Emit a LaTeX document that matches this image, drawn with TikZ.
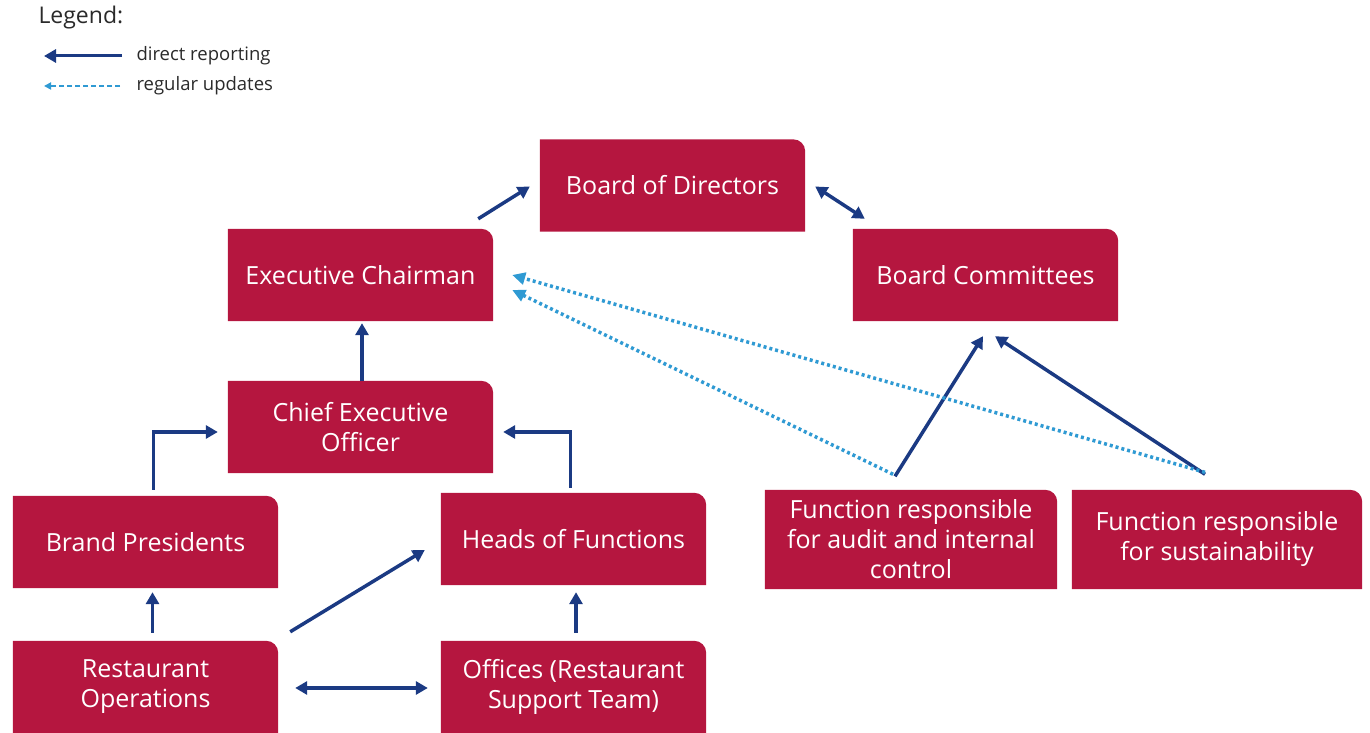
\documentclass[tikz,border=0pt]{standalone}
\usepackage{fontspec}
\setmainfont{Open Sans}
\usetikzlibrary{arrows.meta, backgrounds}

\definecolor{boxred}{HTML}{B5163F}
\definecolor{linkblue}{HTML}{1B3A83}
\definecolor{updateblue}{HTML}{2F9AD3}
\definecolor{legendgray}{HTML}{2A2A2A}

\tikzset{
  orgbox/.style={minimum width=265pt, minimum height=92pt, inner sep=0pt,
    text=white, align=center, font=\fontsize{25}{30}\selectfont},
  legendtext/.style={anchor=west, text=legendgray, font=\fontsize{18.5}{21}\selectfont},
  report/.style={draw=linkblue, line width=3.5pt},
  update/.style={draw=updateblue, line width=3.5pt, dash pattern=on 3pt off 3pt,
    -{Triangle[length=13pt,width=12pt]}},
}

\begin{document}
\begin{tikzpicture}[x=1pt, y=1pt, >={Triangle[length=12pt,width=13pt]}]
        \useasboundingbox (0,0) rectangle (1370,733);

        % Legend
        \node[legendtext, font=\fontsize{23}{26}\selectfont] (legend) at (35,715) {Legend:};
        \node[legendtext] (lgdirect) at (133,677) {direct reporting};
        \node[legendtext] (lgupdate) at (133,647) {regular updates};
        \draw[report, line width=3pt, ->] ([xshift=-11]lgdirect.west) -- ++(-78,0);
        \draw[update, line width=2pt, dash pattern=on 5pt off 3pt,
          -{Triangle[length=7pt,width=7pt]}] ([xshift=-13]lgupdate.west) -- ++(-76,0);

        % Board level
        \node[orgbox] (board) at (672.5,547.5) {Board of Directors};
        \node[orgbox] (chair) at (360.5,458) {Executive Chairman};
        \node[orgbox] (committees) at (985.5,458) {Board Committees};

        % Management
        \node[orgbox] (ceo) at (360.5,306) {Chief Executive\\Officer};
        \node[orgbox] (brands) at (145.5,191) {Brand Presidents};
        \node[orgbox] (heads) at (573.5,194) {Heads of Functions};
        \node[orgbox] (restops) at (145.5,46) {Restaurant\\Operations};
        \node[orgbox] (offices) at (573.5,46) {Offices (Restaurant\\Support Team)};

        % Control functions
        \node[orgbox, minimum width=292pt, minimum height=99pt] (audit) at (911,193.5)
          {Function responsible\\for audit and internal\\control};
        \node[orgbox, minimum width=290pt, minimum height=99pt] (sustain) at (1217,193.5)
          {Function responsible\\for sustainability};

        % Box backgrounds, top right corner rounded
        \begin{scope}[on background layer]
          \foreach \n in {board, chair, committees, ceo, brands, heads, restops, offices, audit, sustain}
            \fill[boxred] (\n.south west) -- (\n.north west) -- ([xshift=-12pt]\n.north east)
              arc[start angle=90, end angle=0, radius=12pt] -- (\n.south east) -- cycle;
        \end{scope}

        % Direct reporting lines
        \draw[report, ->] ([shift={(-15,10)}]chair.north east) -- ([shift={(-10,-1)}]board.west);
        \draw[report, <->] ([shift={(10,-1)}]board.east) -- ([shift={(12,10)}]committees.north west);
        \draw[report, ->] ([shift={(1.5,0)}]ceo.north) -- ([shift={(1.5,-2)}]chair.south);
        \draw[report, ->] ([shift={(8,6)}]brands.north) |- ([shift={(-10,-5)}]ceo.west);
        \draw[report, ->] ([shift={(-3,5)}]heads.north) |- ([shift={(10,-5)}]ceo.east);
        \draw[report, ->] ([shift={(7,8)}]restops.north) -- ([shift={(7,-4)}]brands.south);
        \draw[report, ->] ([shift={(12,9)}]restops.north east) -- ([shift={(-16,-11)}]heads.west);
        \draw[report, ->] ([shift={(2.5,8)}]offices.north) -- ([shift={(2.5,-7)}]heads.south);
        \draw[report, <->] ([shift={(17,-1)}]restops.east) -- ([shift={(-13,-1)}]offices.west);
        \draw[report, ->] ([shift={(-16,13.5)}]audit.north) -- ([shift={(-2.5,-15)}]committees.south);
        \draw[report, ->] ([shift={(-12,15.5)}]sustain.north) -- ([shift={(9.5,-15)}]committees.south);

        % Regular updates
        \draw[update] ([shift={(-18,15.5)}]audit.north) -- ([shift={(19,-15)}]chair.east);
        \draw[update] ([shift={(-12,17.5)}]sustain.north) -- ([shift={(19,0)}]chair.east);
\end{tikzpicture}
\end{document}
